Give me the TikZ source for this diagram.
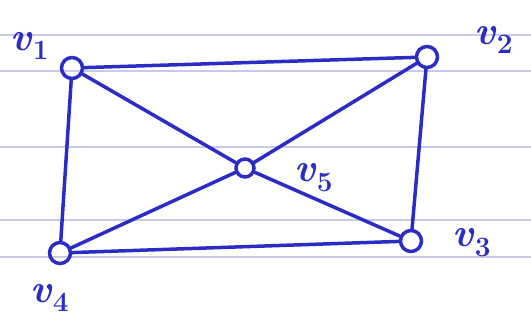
\documentclass[tikz,border=0pt]{standalone}
\usepackage{tikz}
\usetikzlibrary{positioning}
\definecolor{ink}{HTML}{2A2CC4}
\definecolor{rule}{HTML}{C9CAEB}
\newcommand{\vname}[1]{\textit{v}\textsubscript{#1}}

\begin{document}
\begin{tikzpicture}[x=1pt,y=-1pt,
  vtx/.style={draw=ink,line width=3.5pt,circle,minimum size=21pt,inner sep=0pt},
  edge/.style={draw=ink,line width=3.5pt,line cap=round},
  lbl/.style={text=ink,font=\fontsize{40}{44}\selectfont\bfseries}]
\useasboundingbox (0,0) rectangle (531,323);
% ruled paper
\foreach \y in {35,71,147,220,257} {\draw[rule,line width=1.6pt] (0,\y) -- (531,\y);}
% vertices
\node[vtx] (v1) at (72,68) {};
\node[vtx] (v2) at (427,57) {};
\node[vtx] (v3) at (411,241) {};
\node[vtx] (v4) at (60,253) {};
\node[vtx,minimum size=18pt] (v5) at (245,168) {};
% labels
\node[lbl] (l1) at (30,46) {\vname{1}};
\node[lbl] (l2) at (494,40) {\vname{2}};
\node[lbl] (l3) at (472,243) {\vname{3}};
\node[lbl] (l4) at (50,298) {\vname{4}};
\node[lbl] (l5) at (314,178) {\vname{5}};
% edges
\foreach \a/\b in {v1/v2,v2/v3,v3/v4,v4/v1,v1/v5,v5/v3,v2/v5,v5/v4} {\draw[edge] (\a) -- (\b);}
\end{tikzpicture}
\end{document}
